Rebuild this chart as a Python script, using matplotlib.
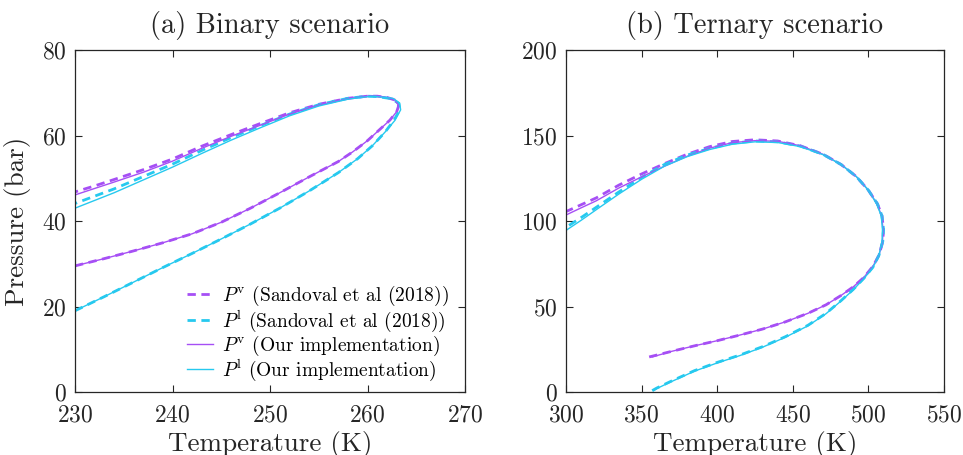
import matplotlib
matplotlib.use('Agg')
import matplotlib.pyplot as plt

plt.rcParams['font.family'] = 'cmr10'
plt.rcParams['mathtext.fontset'] = 'cm'
plt.rcParams['axes.formatter.use_mathtext'] = True

purple = '#a64ff5'
cyan = '#26c9ef'

# ---- binary mixture, dew (Pv) and bubble (Pl) curves ----
bin_T_v_ref = [230, 233, 236, 239, 242, 245, 248, 251, 254, 257, 258.5, 260, 261.3, 262.3, 263, 263.2,
               262.8, 262, 261, 260, 258, 255, 252, 249, 246, 243, 240, 237, 234, 232, 230]
bin_P_v_ref = [29.5, 31.2, 33.0, 34.9, 37.0, 39.7, 43.0, 46.6, 50.3, 53.9, 56.2, 58.8, 61.5, 63.6, 65.6, 67.0,
               68.3, 68.9, 69.2, 69.2, 68.7, 67.3, 65.3, 62.8, 60.2, 57.5, 54.5, 52.0, 49.7, 48.2, 46.8]
bin_T_v_our = [230, 233, 236, 239, 242, 245, 248, 251, 254, 257, 258.5, 260, 261.3, 262.3, 263, 263.2,
               262.8, 262, 261, 260, 258, 255, 252, 249, 246, 243, 240, 237, 234, 232, 230]
bin_P_v_our = [29.5, 31.2, 33.0, 34.9, 37.0, 39.7, 43.0, 46.6, 50.3, 53.9, 56.2, 58.8, 61.5, 63.6, 65.6, 67.0,
               68.3, 68.9, 69.2, 69.2, 68.6, 67.1, 65.0, 62.4, 59.8, 57.0, 54.0, 51.4, 49.1, 47.6, 46.1]

bin_T_l_ref = [230, 233, 236, 239, 242, 245, 248, 251, 254, 257, 259, 260.5, 261.8, 262.7, 263.3, 263.2,
               262.5, 261, 260, 258, 255, 252, 249, 246, 243, 240, 237, 234, 232, 230]
bin_P_l_ref = [19.0, 22.3, 25.7, 29.1, 32.4, 35.8, 39.3, 43.0, 47.0, 51.3, 54.6, 57.6, 60.8, 63.5, 66.0, 67.5,
               68.6, 69.1, 69.2, 68.7, 67.2, 65.0, 62.3, 59.5, 56.5, 53.3, 50.4, 47.5, 45.8, 44.1]
bin_T_l_our = [230, 233, 236, 239, 242, 245, 248, 251, 254, 257, 259, 260.5, 261.8, 262.8, 263.4, 263.3,
               262.6, 261, 260, 258, 255, 252, 249, 246, 243, 240, 237, 234, 232, 230]
bin_P_l_our = [19.0, 22.3, 25.7, 29.1, 32.4, 35.8, 39.3, 43.0, 47.0, 51.3, 54.6, 57.6, 60.8, 63.5, 66.0, 67.6,
               68.7, 69.1, 69.1, 68.5, 66.9, 64.6, 61.8, 58.9, 55.8, 52.6, 49.6, 46.6, 44.8, 43.0]

# ---- ternary mixture ----
ter_T_v_ref = [355, 370, 385, 400, 415, 430, 445, 460, 472, 482, 490, 497, 503, 507, 509.5, 510,
               509, 506, 500, 492, 482, 470, 455, 440, 425, 410, 395, 380, 365, 350, 335, 320, 310, 300]
ter_P_v_ref = [20.5, 23.8, 27.0, 30.0, 33.3, 36.8, 41.0, 46.0, 51.0, 56.5, 61.5, 67.0, 73.5, 80.0, 88.0, 95.0,
               103.0, 110.0, 118.0, 126.0, 133.0, 139.0, 144.0, 146.8, 147.5, 146.5, 143.5, 139.0, 133.5,
               127.5, 121.0, 113.5, 109.5, 105.5]
ter_T_v_our = [357, 370, 385, 400, 415, 430, 445, 460, 472, 482, 490, 497, 503, 507, 509.3, 509.7,
               508.7, 505.7, 500, 492, 482, 470, 455, 440, 425, 410, 395, 380, 365, 350, 335, 320, 310, 300]
ter_P_v_our = [20.5, 23.8, 27.0, 30.0, 33.3, 36.8, 41.0, 46.0, 51.0, 56.5, 61.5, 67.0, 73.5, 80.0, 88.0, 95.0,
               103.0, 110.0, 118.0, 126.0, 133.0, 139.0, 144.0, 146.6, 147.0, 145.8, 142.6, 137.8, 132.0,
               125.8, 119.3, 111.8, 107.7, 103.5]

ter_T_l_ref = [357, 360, 370, 385, 400, 415, 430, 445, 460, 472, 482, 490, 497, 503, 507, 509.5, 510,
               509, 506, 500, 492, 482, 470, 455, 440, 425, 410, 395, 380, 365, 350, 335, 320, 310, 300]
ter_P_l_ref = [0.8, 2.3, 6.5, 12.5, 17.3, 21.6, 26.5, 32.3, 39.0, 46.0, 53.5, 60.0, 66.5, 73.0, 80.0, 88.0,
               95.0, 103.0, 110.0, 118.0, 126.0, 133.0, 139.0, 143.8, 146.3, 146.8, 145.5, 142.5, 138.5,
               133.0, 125.5, 117.0, 108.0, 102.0, 96.3]
ter_T_l_our = [358, 360, 370, 385, 400, 415, 430, 445, 460, 472, 482, 490, 497, 503, 507, 509, 509.3,
               508.5, 505.5, 500, 492, 482, 470, 455, 440, 425, 410, 395, 380, 365, 350, 335, 320, 310, 300]
ter_P_l_our = [0.8, 2.0, 6.2, 12.2, 17.0, 21.3, 26.2, 32.0, 38.7, 45.8, 53.3, 59.8, 66.3, 72.8, 80.0, 88.0,
               95.0, 103.0, 110.0, 118.0, 126.0, 133.0, 138.8, 143.5, 145.9, 146.3, 144.9, 141.8, 137.6,
               132.0, 124.4, 115.8, 106.6, 100.4, 94.5]

fig = plt.figure(figsize=(9.63, 4.55), dpi=100)
ax1 = fig.add_axes([75 / 963, 63 / 455, 390 / 963, 342 / 455])
ax2 = fig.add_axes([566 / 963, 63 / 455, 378 / 963, 342 / 455])


def draw(ax, Tv_r, Pv_r, Tl_r, Pl_r, Tv_o, Pv_o, Tl_o, Pl_o):
    ax.plot(Tv_r, Pv_r, color=purple, lw=2.0, ls=(0, (3, 2)),
            label=r'$P^{\mathrm{v}}$ (Sandoval et al (2018))')
    ax.plot(Tl_r, Pl_r, color=cyan, lw=2.0, ls=(0, (3, 2)),
            label=r'$P^{\mathrm{l}}$ (Sandoval et al (2018))')
    ax.plot(Tv_o, Pv_o, color=purple, lw=1.0, label=r'$P^{\mathrm{v}}$ (Our implementation)')
    ax.plot(Tl_o, Pl_o, color=cyan, lw=1.0, label=r'$P^{\mathrm{l}}$ (Our implementation)')
    ax.tick_params(direction='in', top=True, right=True, length=5, width=0.8,
                   labelsize=17, colors='#262626')
    ax.tick_params(axis='y', pad=6)
    ax.tick_params(axis='x', pad=9)
    for s in ax.spines.values():
        s.set_color('#262626')
        s.set_linewidth(0.9)
    ax.set_xlabel('Temperature (K)', fontsize=19.5, color='#262626', labelpad=3)


draw(ax1, bin_T_v_ref, bin_P_v_ref, bin_T_l_ref, bin_P_l_ref,
     bin_T_v_our, bin_P_v_our, bin_T_l_our, bin_P_l_our)
ax1.set_xlim(230, 270)
ax1.set_ylim(0, 80)
ax1.set_xticks([230, 240, 250, 260, 270])
ax1.set_yticks([0, 20, 40, 60, 80])
ax1.set_ylabel('Pressure (bar)', fontsize=19.5, color='#262626', labelpad=8)
ax1.set_title('(a) Binary scenario', fontsize=20.5, color='#262626', pad=12)
ax1.legend(loc='lower right', bbox_to_anchor=(0.988, -0.008), frameon=False, fontsize=14,
           handlelength=1.35, handletextpad=0.45, labelspacing=0.0, borderaxespad=0.2)

draw(ax2, ter_T_v_ref, ter_P_v_ref, ter_T_l_ref, ter_P_l_ref,
     ter_T_v_our, ter_P_v_our, ter_T_l_our, ter_P_l_our)
ax2.set_xlim(300, 550)
ax2.set_ylim(0, 200)
ax2.set_xticks([300, 350, 400, 450, 500, 550])
ax2.set_yticks([0, 50, 100, 150, 200])
ax2.set_title('(b) Ternary scenario', fontsize=20.5, color='#262626', pad=12)

fig.savefig('out.png', dpi=100)
